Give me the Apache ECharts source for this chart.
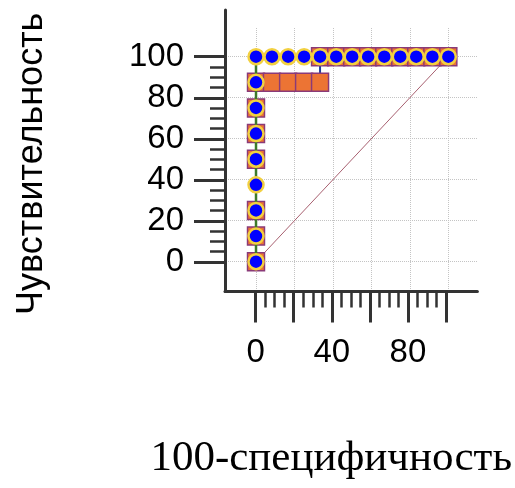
<!DOCTYPE html>
<html>
<head>
<meta charset="utf-8">
<title>ROC</title>
<script src="https://cdn.jsdelivr.net/npm/echarts@6/dist/echarts.min.js"></script>
<style>
	html,body{margin:0;padding:0;background:#fff;}
	#rocContainer{width:515px;height:488px;}
</style>
</head>
<body>
<div id="rocContainer"></div>
<script>
var myChart;//全局变量，窗口resize时重绘

//第一条曲线（蓝色圆点，绿色连线）
var rocX1=[0,0,0,0,0,0,0,0,0,8.3,16.7,25,33.3,41.7,50,58.3,66.7,75,83.3,91.7,100];
var rocY1=[0,12.5,25,37.5,50,62.5,75,87.5,100,100,100,100,100,100,100,100,100,100,100,100,100];
//第二条曲线（橙色方块，蓝色连线）
var rocX2=[0,0,0,0,0,0,0,8.3,16.7,25,33.3,33.3,41.7,50,58.3,66.7,75,83.3,91.7,100];
var rocY2=[0,12.5,25,50,62.5,75,87.5,87.5,87.5,87.5,87.5,100,100,100,100,100,100,100,100,100];
//对角参考线
var diagX=[0,100];
var diagY=[0,100];

//刻度
var xMajorTicks=[0,20,40,60,80,100];
var xMinorTicks=[5,10,15,25,30,35,45,50,55,65,70,75,85,90,95];
var xTickLabels=[0,40,80];
var yMajorTicks=[0,20,40,60,80,100];
var yMinorTicks=[5,10,15,25,30,35,45,50,55,65,70,75,85,90,95];
var yTickLabels=[0,20,40,60,80,100];

var xTitle='100-специфичность';
var yTitle='Чувствительность';

function toPairs(xs,ys){
	var arr=[];
	for(var i=0;i<xs.length;i++){
		arr.push([xs[i],ys[i]]);
	}
	return arr;
}

function showRoc(){
	var dom=document.getElementById("rocContainer");
	myChart=echarts.init(dom);
	var sans='"Liberation Sans", Arial, sans-serif';
	var axisColor='#333';
	var option={
		animation:false,
		backgroundColor:'#fff',
		grid:[
			//坐标轴框架
			{left:225,right:35,top:10,bottom:196.5},
			//绘图区（网格线与数据）
			{left:226,right:38,top:28,bottom:197}
		],
		xAxis:[
			{
				gridIndex:0,type:'value',min:-16.1,max:116.5,
				axisLine:{show:true,onZero:false,lineStyle:{color:axisColor,width:3}},
				axisTick:{show:true,customValues:xMajorTicks,length:31,lineStyle:{color:axisColor,width:3}},
				axisLabel:{show:true,customValues:xTickLabels,fontSize:33,margin:45,color:'#000',fontFamily:sans},
				splitLine:{show:false},
				name:xTitle,nameLocation:'middle',nameGap:146,
				nameTextStyle:{fontFamily:'"Liberation Serif", "Times New Roman", serif',fontSize:43,color:'#000',padding:[0,40,0,0]}
			},
			{
				gridIndex:0,type:'value',min:-16.1,max:116.5,position:'bottom',
				axisLine:{show:false,onZero:false},
				axisTick:{show:true,customValues:xMinorTicks,length:16,lineStyle:{color:axisColor,width:2.5}},
				axisLabel:{show:false},
				splitLine:{show:false}
			},
			{
				gridIndex:1,type:'value',min:-15.6,max:114.9,minInterval:20,maxInterval:20,
				axisLine:{show:false,onZero:false},
				axisTick:{show:false},
				axisLabel:{show:false},
				splitLine:{show:true,showMinLine:false,showMaxLine:false,lineStyle:{color:'#c4c4c4',width:1,type:'dotted'}}
			}
		],
		yAxis:[
			{
				gridIndex:0,type:'value',min:-14.5,max:122.8,
				axisLine:{show:true,onZero:false,lineStyle:{color:axisColor,width:3}},
				axisTick:{show:true,customValues:yMajorTicks,length:31,lineStyle:{color:axisColor,width:3}},
				axisLabel:{show:true,customValues:yTickLabels,fontSize:33,margin:41,color:'#000',fontFamily:sans},
				splitLine:{show:false},
				name:yTitle,nameLocation:'middle',nameGap:175,
				nameTextStyle:{fontFamily:sans,fontSize:36,color:'#000',padding:[0,26,0,0]}
			},
			{
				gridIndex:0,type:'value',min:-14.5,max:122.8,position:'left',
				axisLine:{show:false,onZero:false},
				axisTick:{show:true,customValues:yMinorTicks,length:15,lineStyle:{color:axisColor,width:2.5}},
				axisLabel:{show:false},
				splitLine:{show:false}
			},
			{
				gridIndex:1,type:'value',min:-14.3,max:114,minInterval:20,maxInterval:20,
				axisLine:{show:false,onZero:false},
				axisTick:{show:false},
				axisLabel:{show:false},
				splitLine:{show:true,showMinLine:false,showMaxLine:false,lineStyle:{color:'#c4c4c4',width:1,type:'dotted'}}
			}
		],
		series:[
			{
				type:'line',xAxisIndex:2,yAxisIndex:2,
				data:toPairs(diagX,diagY),
				symbol:'none',
				lineStyle:{color:'#a86070',width:1},
				z:1
			},
			{
				type:'line',xAxisIndex:2,yAxisIndex:2,
				data:toPairs(rocX2,rocY2),
				symbol:'rect',symbolSize:[17,18],
				itemStyle:{color:'#ec7434',borderColor:'#8a3a78',borderWidth:1.5},
				lineStyle:{color:'#1f3f9a',width:2},
				z:2
			},
			{
				type:'line',xAxisIndex:2,yAxisIndex:2,
				data:toPairs(rocX1,rocY1),
				symbol:'circle',symbolSize:15,
				itemStyle:{color:'#0000ff',borderColor:'#f2d040',borderWidth:2.5},
				lineStyle:{color:'#3e7a2a',width:2.5},
				z:3
			}
		]
	};
	myChart.setOption(option);
}

showRoc();
window.addEventListener("resize",function(){
	myChart.resize();
});
</script>
</body>
</html>
